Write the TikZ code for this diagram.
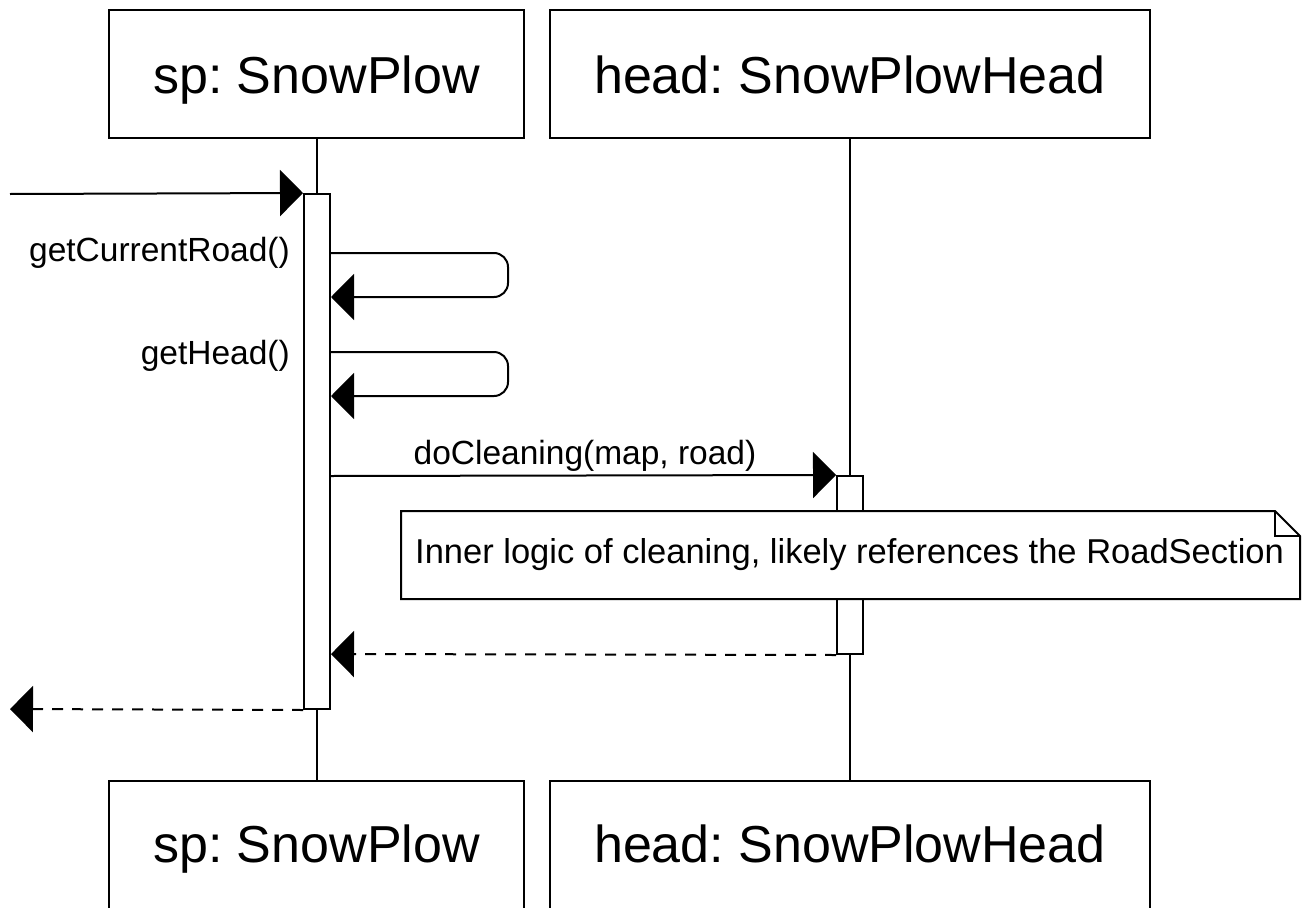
\documentclass[tikz,border=0pt]{standalone}
\usepackage{fontspec}
\setmainfont{Liberation Sans}
\usetikzlibrary{arrows.meta}
\frenchspacing
\begin{document}
\begin{tikzpicture}[x=1pt,y=-1pt,
  lw/.style={line width=2pt},
  obj/.style={draw, line width=2pt, fill=white, inner sep=0pt},
  ttl/.style={inner sep=0pt, anchor=base, font=\fontsize{52}{60}\selectfont\frenchspacing},
  act/.style={draw, line width=2pt, fill=white, inner sep=0pt, minimum width=26pt},
  lbl/.style={font=\fontsize{33.5}{40}\selectfont, inner sep=0pt},
  msg/.style={line width=2pt, -{Triangle[length=23pt,width=46pt]}},
  ret/.style={msg, dash pattern=on 11pt off 9pt},
]
\clip (0,0) rectangle (1311,907);
\fill[white] (0,0) rectangle (1311,907);

% lifeline boxes
\node[obj, minimum width=415pt, minimum height=128pt] (spTop) at (316.5,74) {};
\node[ttl] (spTopT) at (316.5,93) {sp: SnowPlow};
\node[obj, minimum width=600pt, minimum height=128pt] (headTop) at (850,74) {};
\node[ttl] (headTopT) at (850,93) {head: SnowPlowHead};
\node[obj, minimum width=415pt, minimum height=200pt, anchor=north] (spBot) at (316.5,780) {};
\node[ttl] (spBotT) at (316.5,862) {sp: SnowPlow};
\node[obj, minimum width=600pt, minimum height=200pt, anchor=north] (headBot) at (850,780) {};
\node[ttl] (headBotT) at (850,862) {head: SnowPlowHead};

% lifelines
\draw[lw] (spTop.south) -- (spBot.north);
\draw[lw] (headTop.south) -- (headBot.north);

% activations
\node[act, minimum height=515pt] (spAct) at (317,451.5) {};
\node[act, minimum height=178pt] (headAct) at (850,565) {};

% incoming message
\coordinate (inStart) at (10,194);
\draw[msg] (inStart) -- (spAct.north west);

% self calls
\coordinate (s1a) at (331,253);
\coordinate (s1b) at (508,253);
\coordinate (s1c) at (508,297);
\coordinate (s1d) at (331,297);
\draw[msg, rounded corners=14pt] (s1a) -- (s1b) -- (s1c) -- (s1d);
\node[lbl, anchor=east] (l1) at (290,253) {getCurrentRoad()};

\coordinate (s2a) at (331,352);
\coordinate (s2b) at (508,352);
\coordinate (s2c) at (508,396);
\coordinate (s2d) at (331,396);
\draw[msg, rounded corners=14pt] (s2a) -- (s2b) -- (s2c) -- (s2d);
\node[lbl, anchor=east] (l2) at (290,356) {getHead()};

% doCleaning
\coordinate (dcStart) at (331,476);
\draw[msg] (dcStart) -- (headAct.north west);
\node[lbl] (l3) at (585,456) {doCleaning(map, road)};

% note
\draw[lw, fill=white] (401,511) -- (1275,511) -- (1300,536) -- (1300,599) -- (401,599) -- cycle;
\draw[lw] (1275,511) -- (1275,536) -- (1300,536);
\node[lbl, anchor=west, font=\fontsize{34.5}{40}\selectfont] (note) at (415,555) {Inner logic of cleaning, likely references the RoadSection};

% returns
\coordinate (r1end) at (331,654);
\draw[ret] (headAct.south west) -- (r1end);
\coordinate (r2end) at (10,709);
\draw[ret] (spAct.south west) -- (r2end);
\end{tikzpicture}
\end{document}
